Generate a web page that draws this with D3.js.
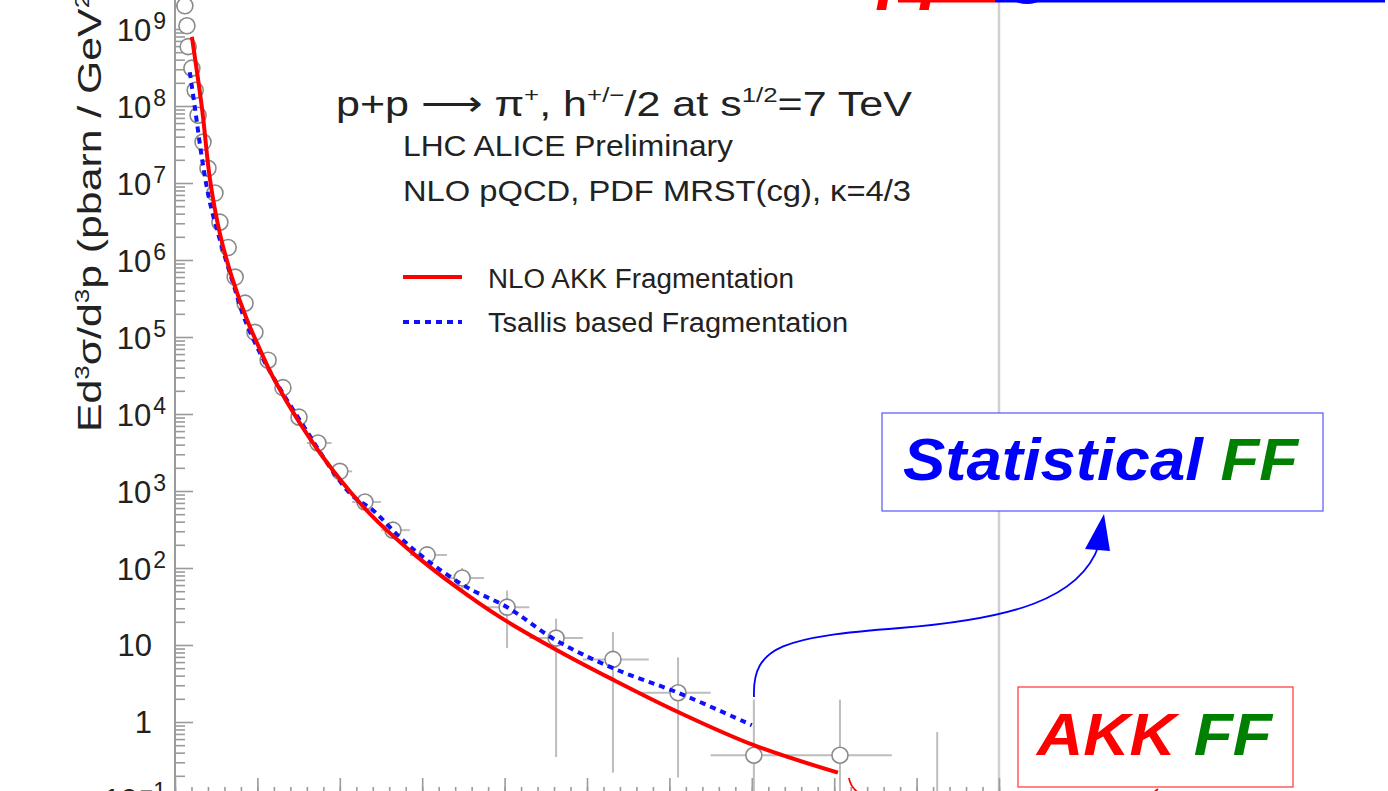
<!DOCTYPE html>
<html>
<head>
<meta charset="utf-8">
<script src="https://cdn.jsdelivr.net/npm/d3@7"></script>
<style>
  html, body { margin: 0; padding: 0; background: #fff; overflow: hidden; }
  text { font-family: "Liberation Sans", Arial, sans-serif; }
</style>
</head>
<body>
<div class="spectrum"></div>
<script>
var width = 1388, height = 791;

// measured points (pT in GeV/c, cross section in pbarn/GeV^2)
var ptData  = [0.24, 0.29, 0.32, 0.41, 0.49, 0.56, 0.68, 0.80, 0.97, 1.09, 1.29, 1.46, 1.70, 1.94, 2.26, 2.62, 3.01, 3.47, 4.00, 4.61, 5.29, 6.12, 6.97, 8.06, 9.25, 10.63, 12.21, 14.05, 16.14, 18.5];
var sigData = [2.0e9, 1.1e9, 5.9e8, 3.1e8, 1.6e8, 7.6e7, 3.4e7, 1.55e7, 7.4e6, 3.1e6, 1.45e6, 6.0e5, 2.75e5, 1.15e5, 5.0e4, 2.2e4, 9.1e3, 4.2e3, 1.8e3, 720, 310, 148, 74, 31, 12.3, 6.5, 2.4, 0.37, 0.37, 0.06];
var sigHi   = [2.0e9, 1.1e9, 5.9e8, 3.1e8, 1.6e8, 7.6e7, 3.4e7, 1.55e7, 7.4e6, 3.1e6, 1.45e6, 6.0e5, 2.75e5, 1.15e5, 5.0e4, 2.2e4, 9.1e3, 4.4e3, 1.9e3, 780, 340, 170, 100, 51, 22, 14.8, 6.9, 1.95, 1.95, 0.74];
var sigLo   = [2.0e9, 1.1e9, 5.9e8, 3.1e8, 1.6e8, 7.6e7, 3.4e7, 1.55e7, 7.4e6, 3.1e6, 1.45e6, 6.0e5, 2.75e5, 1.15e5, 5.0e4, 2.2e4, 9.1e3, 4.0e3, 1.7e3, 660, 280, 128, 49, 9.1, 0.35, 0.22, 0.19, 0.01, 0.01, 0.01];
var ptLo    = [0.24, 0.29, 0.32, 0.41, 0.49, 0.56, 0.68, 0.80, 0.97, 1.09, 1.29, 1.46, 1.70, 1.94, 2.26, 2.62, 3.01, 3.2, 3.8, 4.3, 5.0, 5.7, 6.5, 7.5, 8.6, 9.9, 11.3, 13.0, 15.0, 18.5];
var ptHi    = [0.24, 0.29, 0.32, 0.41, 0.49, 0.56, 0.68, 0.80, 0.97, 1.09, 1.29, 1.46, 1.70, 1.94, 2.26, 2.62, 3.01, 3.8, 4.3, 5.0, 5.7, 6.6, 7.5, 8.6, 9.9, 11.5, 13.0, 15.0, 17.4, 18.5];

// NLO AKK fragmentation curve
var akkPt  = [0.41, 0.66, 0.85, 1.09, 1.38, 1.75, 2.18, 2.38, 3.03, 3.83, 4.81, 5.78, 6.84, 7.89, 9.25, 10.63, 12.21, 14.05, 16.09];
var akkSig = [7.9e8, 8.9e7, 1.1e7, 2.2e6, 6.0e5, 1.66e5, 5.0e4, 3.0e4, 7.6e3, 1.86e3, 457, 155, 56, 23, 8.7, 3.55, 1.35, 0.50, 0.22];

// Tsallis based fragmentation curve
var tsPt  = [0.36, 0.49, 0.66, 0.85, 1.14, 1.41, 1.70, 2.2, 3.03, 4.25, 4.81, 5.46, 6.12, 7.09, 8.06, 9.25, 10.63, 12.21, 14.0];
var tsSig = [2.75e8, 8.9e7, 2.0e7, 5.5e6, 1.48e6, 5.0e5, 1.66e5, 4.5e4, 8.3e3, 930, 560, 250, 126, 56, 31, 11.5, 5.0, 2.4, 0.91];

// y tick labels: values and their exponent text
var yTickVals = [1e-1, 1, 10, 1e2, 1e3, 1e4, 1e5, 1e6, 1e7, 1e8, 1e9];
var yTickExp  = ["\u22121", "", "", "2", "3", "4", "5", "6", "7", "8", "9"];

function spectrum() {

    function drawGraph() {
        var svg = d3.select('.spectrum')
            .append('svg')
            .attr('width', width)
            .attr('height', height);

        var x = d3.scaleLinear().domain([0, 20]).range([175, 999]);
        var y = d3.scaleLog().domain([0.1, 1e9]).range([799, 29]);

        var axisColor = '#9a9a9a';

        // right frame line
        svg.append('line')
            .attr('x1', x(20)).attr('x2', x(20))
            .attr('y1', 0).attr('y2', height)
            .attr('stroke', '#cfcfcf').attr('stroke-width', 2.5);

        // y axis: major + minor ticks pointing inwards
        var minorY = [];
        for (var e = -1; e < 10; e++) {
            for (var m = 2; m < 10; m++) minorY.push(m * Math.pow(10, e));
        }
        var gy = svg.append('g').attr('transform', 'translate(175,0)');
        gy.call(d3.axisRight(y).tickValues(minorY).tickSize(10).tickFormat(''));
        gy.call(g => g.append('g').call(d3.axisRight(y).tickValues(yTickVals).tickSize(18).tickFormat('')));
        gy.selectAll('.domain').remove();
        gy.selectAll('line').attr('stroke', axisColor).attr('stroke-width', 1.6);
        svg.append('line')
            .attr('x1', 175).attr('x2', 175).attr('y1', 0).attr('y2', 799)
            .attr('stroke', axisColor).attr('stroke-width', 2);

        // y tick labels
        yTickVals.forEach(function(v, i) {
            var ty = y(v);
            if (yTickExp[i] === "") {
                svg.append('text')
                    .attr('x', 152).attr('y', ty + 11)
                    .attr('text-anchor', 'end')
                    .style('font-size', '31px').style('fill', '#222')
                    .text(v === 1 ? '1' : '10');
            } else {
                var t = svg.append('text')
                    .attr('x', 166).attr('y', ty + 12)
                    .attr('text-anchor', 'end')
                    .style('fill', '#222');
                t.append('tspan').style('font-size', '31px').text('10');
                t.append('tspan').attr('dx', 2).attr('dy', -12).style('font-size', '23px').text(yTickExp[i]);
            }
        });

        // x axis (only ticks show at the bottom edge)
        var gx = svg.append('g').attr('transform', 'translate(0,799)');
        gx.call(d3.axisTop(x).tickValues(d3.range(0, 20.01, 0.4)).tickSize(12).tickFormat(''));
        gx.call(g => g.append('g').call(d3.axisTop(x).tickValues(d3.range(0, 20.01, 2)).tickSize(21).tickFormat('')));
        gx.selectAll('.domain').remove();
        gx.selectAll('line').attr('stroke', axisColor).attr('stroke-width', 1.6);

        // y axis title (runs off the top like the original)
        var yt = svg.append('text')
            .attr('transform', 'translate(101,432) rotate(-90)')
            .attr('textLength', 500).attr('lengthAdjust', 'spacingAndGlyphs')
            .style('font-size', '33px').style('fill', '#222');
        yt.append('tspan').text('Ed');
        yt.append('tspan').attr('dy', -12).style('font-size', '20px').text('3');
        yt.append('tspan').attr('dy', 12).text('\u03c3/d');
        yt.append('tspan').attr('dy', -12).style('font-size', '20px').text('3');
        yt.append('tspan').attr('dy', 12).text('p (pbarn / GeV');
        yt.append('tspan').attr('dy', -12).style('font-size', '20px').text('2');
        yt.append('tspan').attr('dy', 12).text('/c');
        yt.append('tspan').attr('dy', -12).style('font-size', '20px').text('3');
        yt.append('tspan').attr('dy', 12).text(')');

        // data with error bars
        var pts = ptData.map(function(p, i) {
            return {pt: p, s: sigData[i], hi: sigHi[i], lo: sigLo[i], xl: ptLo[i], xh: ptHi[i]};
        });
        var plot = svg.append('g');
        var errColor = '#bdbdbd';
        plot.selectAll('.vbar').data(pts).enter().append('line')
            .attr('x1', d => x(d.pt)).attr('x2', d => x(d.pt))
            .attr('y1', d => y(d.hi)).attr('y2', d => y(d.lo))
            .attr('stroke', errColor).attr('stroke-width', 2);
        plot.selectAll('.hbar').data(pts).enter().append('line')
            .attr('x1', d => x(d.xl)).attr('x2', d => x(d.xh))
            .attr('y1', d => y(d.s)).attr('y2', d => y(d.s))
            .attr('stroke', errColor).attr('stroke-width', 2);
        plot.selectAll('.marker').data(pts).enter().append('circle')
            .attr('cx', d => x(d.pt)).attr('cy', d => y(d.s))
            .attr('r', 8)
            .attr('fill', '#fff')
            .attr('stroke', '#8a8a8a').attr('stroke-width', 1.6);

        // theory curves
        var line = d3.line()
            .x(d => x(d[0])).y(d => y(d[1]))
            .curve(d3.curveCatmullRom.alpha(0.5));

        svg.append('path')
            .attr('d', line(d3.zip(tsPt, tsSig)))
            .attr('fill', 'none').attr('stroke', '#1010ff')
            .attr('stroke-width', 4).attr('stroke-dasharray', '6,5');
        svg.append('path')
            .attr('d', line(d3.zip(akkPt, akkSig)))
            .attr('fill', 'none').attr('stroke', '#ff0000')
            .attr('stroke-width', 4);

        // plot labels
        var l1 = svg.append('text').attr('x', 336).attr('y', 116)
            .attr('textLength', 576).attr('lengthAdjust', 'spacingAndGlyphs')
            .style('font-size', '35px').style('fill', '#222');
        l1.append('tspan').text('p+p \u27f6 \u03c0');
        l1.append('tspan').attr('dy', -14).style('font-size', '21px').text('+');
        l1.append('tspan').attr('dy', 14).text(', h');
        l1.append('tspan').attr('dy', -14).style('font-size', '21px').text('+/\u2212');
        l1.append('tspan').attr('dy', 14).text('/2 at s');
        l1.append('tspan').attr('dy', -14).style('font-size', '21px').text('1/2');
        l1.append('tspan').attr('dy', 14).text('=7 TeV');

        svg.append('text').attr('x', 403).attr('y', 156)
            .attr('textLength', 330).attr('lengthAdjust', 'spacingAndGlyphs')
            .style('font-size', '29px').style('fill', '#222')
            .text('LHC ALICE Preliminary');
        svg.append('text').attr('x', 403).attr('y', 201)
            .attr('textLength', 508).attr('lengthAdjust', 'spacingAndGlyphs')
            .style('font-size', '29px').style('fill', '#222')
            .text('NLO pQCD, PDF MRST(cg), \u03ba=4/3');

        // legend
        svg.append('line').attr('x1', 403).attr('x2', 462).attr('y1', 277).attr('y2', 277)
            .attr('stroke', '#ff0000').attr('stroke-width', 4);
        svg.append('line').attr('x1', 403).attr('x2', 462).attr('y1', 322).attr('y2', 322)
            .attr('stroke', '#1010ff').attr('stroke-width', 4).attr('stroke-dasharray', '6,5');
        svg.append('text').attr('x', 488).attr('y', 288)
            .attr('textLength', 306).attr('lengthAdjust', 'spacingAndGlyphs')
            .style('font-size', '27px').style('fill', '#222')
            .text('NLO AKK Fragmentation');
        svg.append('text').attr('x', 488).attr('y', 332)
            .attr('textLength', 360).attr('lengthAdjust', 'spacingAndGlyphs')
            .style('font-size', '27px').style('fill', '#222')
            .text('Tsallis based Fragmentation');

        // annotation boxes
        svg.append('rect').attr('x', 882).attr('y', 413).attr('width', 441).attr('height', 98)
            .attr('fill', '#fff').attr('stroke', '#5555ff').attr('stroke-width', 1.2);
        var s1 = svg.append('text').attr('x', 903).attr('y', 480)
            .attr('textLength', 395).attr('lengthAdjust', 'spacingAndGlyphs')
            .style('font-size', '60px').style('font-weight', 'bold').style('font-style', 'italic');
        s1.append('tspan').style('fill', '#0000ff').text('Statistical ');
        s1.append('tspan').style('fill', '#008000').text('FF');

        svg.append('rect').attr('x', 1018).attr('y', 687).attr('width', 275).attr('height', 100)
            .attr('fill', '#fff').attr('stroke', '#ff3333').attr('stroke-width', 1.2);
        var s2 = svg.append('text').attr('x', 1037).attr('y', 755)
            .attr('textLength', 235).attr('lengthAdjust', 'spacingAndGlyphs')
            .style('font-size', '60px').style('font-weight', 'bold').style('font-style', 'italic');
        s2.append('tspan').style('fill', '#ff0000').text('AKK ');
        s2.append('tspan').style('fill', '#008000').text('FF');

        // arrows
        svg.append('path')
            .attr('d', 'M754,697 C752,645 785,637 900,628 C1010,619 1080,600 1099,545')
            .attr('fill', 'none').attr('stroke', '#0000ff').attr('stroke-width', 1.8);
        svg.append('path')
            .attr('d', 'M1104,514 L1085,549 L1110,551 Z')
            .attr('fill', '#0000ff');
        svg.append('path')
            .attr('d', 'M849,778 C856,830 1100,840 1158,789')
            .attr('fill', 'none').attr('stroke', '#ff0000').attr('stroke-width', 1.8);

        // cut-off slide title at the top
        svg.append('text').attr('x', 878).attr('y', -5)
            .style('font-size', '70px').style('font-weight', 'bold').style('font-style', 'italic')
            .style('fill', '#ff0000').text('pp');
        svg.append('rect').attr('x', 898).attr('y', 0).attr('width', 97).attr('height', 2.5).attr('fill', '#ff0000');
        svg.append('rect').attr('x', 995).attr('y', 0).attr('width', 390).attr('height', 2.5).attr('fill', '#0000ff');
        svg.append('ellipse').attr('cx', 1027).attr('cy', 0).attr('rx', 12).attr('ry', 4).attr('fill', '#0000ff');
    }

    function init() {
        drawGraph();
    }
    init();
}
spectrum();
</script>
</body>
</html>
